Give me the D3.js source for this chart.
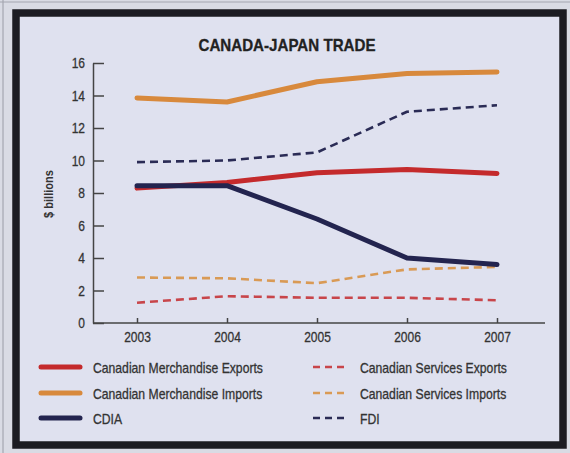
<!DOCTYPE html>
<html>
<head>
<meta charset="utf-8">
<script src="https://cdn.jsdelivr.net/npm/d3@7"></script>
<style>
  html, body { margin: 0; padding: 0; background: #d9dbe4; }
  svg { display: block; }
  .narrow { font-family: "Liberation Sans", Arial, sans-serif; }
</style>
</head>
<body>
<div id="chart"></div>
<script>
// data
var years = [2003, 2004, 2005, 2006, 2007];
var merchExports = [8.3, 8.65, 9.25, 9.45, 9.2];
var merchImports = [13.85, 13.6, 14.85, 15.35, 15.45];
var cdia = [8.45, 8.45, 6.4, 4.0, 3.6];
var servExports = [1.25, 1.65, 1.55, 1.55, 1.4];
var servImports = [2.8, 2.75, 2.45, 3.3, 3.45];
var fdi = [9.9, 10.0, 10.5, 13.0, 13.4];
var yTicks = [0, 2, 4, 6, 8, 10, 12, 14, 16];

var series = [
  {name: "Canadian Merchandise Exports", values: merchExports, color: "#c42a2c", dashed: false},
  {name: "Canadian Merchandise Imports", values: merchImports, color: "#d8893c", dashed: false},
  {name: "CDIA", values: cdia, color: "#23244f", dashed: false},
  {name: "Canadian Services Exports", values: servExports, color: "#c8454a", dashed: true},
  {name: "Canadian Services Imports", values: servImports, color: "#d99a55", dashed: true},
  {name: "FDI", values: fdi, color: "#2a2b55", dashed: true}
];

var W = 570, H = 453;

// squeeze text horizontally to imitate a condensed face
function condense(sel, f) {
  sel.each(function() {
    var w = this.getComputedTextLength();
    d3.select(this).attr("textLength", w * f).attr("lengthAdjust", "spacingAndGlyphs");
  });
}

var svg = d3.select("#chart").append("svg")
    .attr("width", W)
    .attr("height", H);

// page background + framed panel
svg.append("rect").attr("width", W).attr("height", H).attr("fill", "#d9dbe4");
svg.append("line").attr("x1", 3).attr("x2", 3).attr("y1", 0).attr("y2", H)
    .attr("stroke", "#9a9ca6").attr("stroke-width", 1);
svg.append("line").attr("x1", 0).attr("x2", W).attr("y1", 2).attr("y2", 2)
    .attr("stroke", "#a4a6b0").attr("stroke-width", 1);
svg.append("rect")
    .attr("x", 16).attr("y", 13)
    .attr("width", 547).attr("height", 432)
    .attr("fill", "#dfe1ef")
    .attr("stroke", "#1c1c22")
    .attr("stroke-width", 7.5);

var x = d3.scaleLinear().domain([2003, 2007]).range([137, 497]);
var y = d3.scaleLinear().domain([0, 16]).range([323, 63]);

svg.append("text")
    .attr("class", "narrow")
    .attr("x", 287).attr("y", 51)
    .attr("text-anchor", "middle")
    .attr("font-size", 17)
    .attr("font-weight", "bold")
    .attr("fill", "#222")
    .attr("stroke", "#222").attr("stroke-width", 0.3)
    .text("CANADA-JAPAN TRADE")
    .call(condense, 0.89);

// y axis
var yAxis = svg.append("g")
    .attr("class", "narrow")
    .attr("transform", "translate(93,0)")
    .call(d3.axisLeft(y).tickValues(yTicks).tickSizeInner(-11).tickSizeOuter(0).tickPadding(8));
yAxis.selectAll("line").attr("stroke", "#444").attr("stroke-width", 1.5);
yAxis.select(".domain").attr("stroke", "#444").attr("stroke-width", 1.5);
yAxis.selectAll("text").attr("font-size", 15).attr("fill", "#333")
    .attr("stroke", "#333").attr("stroke-width", 0.3).call(condense, 0.8);

// x axis
var xAxis = svg.append("g")
    .attr("class", "narrow")
    .attr("transform", "translate(0,323)")
    .call(d3.axisBottom(x).tickValues(years).tickFormat(d3.format("d"))
      .tickSizeInner(-5).tickSizeOuter(0).tickPadding(8));
xAxis.select(".domain").remove();
xAxis.append("line").attr("x1", 93).attr("x2", 545)
    .attr("stroke", "#444").attr("stroke-width", 1.5);
xAxis.selectAll("line").attr("stroke", "#444").attr("stroke-width", 1.5);
xAxis.selectAll("text").attr("font-size", 15).attr("fill", "#333")
    .attr("stroke", "#333").attr("stroke-width", 0.3).call(condense, 0.8);

svg.append("text")
    .attr("class", "narrow")
    .attr("transform", "translate(53,194) rotate(-90)")
    .attr("text-anchor", "middle")
    .attr("font-size", 13)
    .attr("font-weight", "bold")
    .attr("fill", "#333")
    .text("$ billions")
    .call(condense, 0.85);

var line = d3.line()
    .x(function(d, i) { return x(years[i]); })
    .y(function(d) { return y(d); });

// dashed ones first, solid drawn on top
var order = [3, 4, 5, 0, 1, 2];
order.forEach(function(k) {
  var s = series[k];
  svg.append("path")
      .datum(s.values)
      .attr("d", line)
      .attr("fill", "none")
      .attr("stroke", s.color)
      .attr("stroke-width", s.dashed ? 2.6 : 5)
      .attr("stroke-linejoin", "round")
      .attr("stroke-linecap", s.dashed ? "butt" : "round")
      .attr("stroke-dasharray", s.dashed ? "8,5" : null);
});

// legend
var rowY = [368, 394, 419];
series.forEach(function(s, i) {
  var col = s.dashed ? 1 : 0;
  var row = i % 3;
  var lx = col ? 313 : 41;
  var lw = col ? 36 : 39;
  var tx = col ? 360 : 93;
  var g = svg.append("g").attr("transform", "translate(0," + rowY[row] + ")");
  g.append("line")
      .attr("x1", lx).attr("x2", lx + lw)
      .attr("y1", -1).attr("y2", -1)
      .attr("stroke", s.color)
      .attr("stroke-width", s.dashed ? 2.6 : 5)
      .attr("stroke-linecap", s.dashed ? "butt" : "round")
      .attr("stroke-dasharray", s.dashed ? "7,5" : null);
  g.append("text")
      .attr("class", "narrow")
      .attr("x", tx).attr("y", 0)
      .attr("dy", "0.35em")
      .attr("font-size", 14.5)
      .attr("fill", "#333")
      .attr("stroke", "#333").attr("stroke-width", 0.3)
      .text(s.name)
      .call(condense, 0.84);
});
</script>
</body>
</html>
